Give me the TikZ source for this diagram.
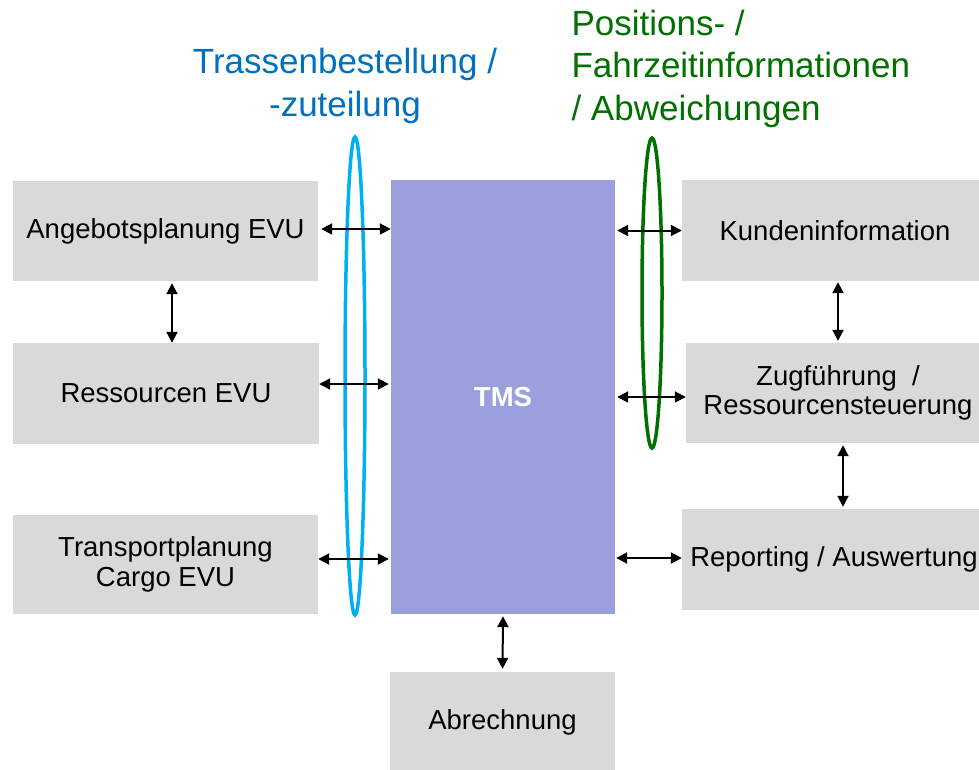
\documentclass[tikz,border=0pt]{standalone}
\usepackage{fontspec}
\setmainfont{Liberation Sans}
\usetikzlibrary{arrows.meta}
\definecolor{boxgrey}{HTML}{D9D9D9}
\definecolor{tmsfill}{HTML}{9B9FDD}
\definecolor{titleblue}{HTML}{0070C0}
\definecolor{ringcyan}{HTML}{00B0F0}
\definecolor{titlegreen}{HTML}{007000}
\tikzset{
  sysbox/.style={fill=boxgrey, draw=none, inner sep=0pt, align=center,
    font=\fontsize{27.5}{33}\selectfont},
  link/.style={<->, line width=2pt, >={Triangle[length=11pt,width=11pt]}},
  ring/.style={line width=3.5pt},
  title/.style={font=\fontsize{35}{42.5}\selectfont}
}
\begin{document}
\begin{tikzpicture}[x=1pt,y=-1pt]
\clip (0,0) rectangle (979,769);
\useasboundingbox (0,0) rectangle (979,769);

% left column
\node[sysbox, minimum width=305pt, minimum height=100pt] (ang) at (165.5,231) {Angebotsplanung EVU};
\node[sysbox, minimum width=306pt, minimum height=101pt] (res) at (166,393.5) {Ressourcen EVU};
\node[sysbox, minimum width=305pt, minimum height=99pt] (trp) at (165.5,564.5)
  {\raisebox{-2pt}{\shortstack{Transportplanung\\[2pt]Cargo EVU}}};

% central system
\node[fill=tmsfill, minimum width=224pt, minimum height=434pt, inner sep=0pt,
  text=white, font=\fontsize{27.5}{33}\selectfont\bfseries] (tms) at (503,397) {TMS};
\node[sysbox, minimum width=225pt, minimum height=100pt] (abr) at (502.5,722) {\raisebox{-3pt}{Abrechnung}};

% right column (boxes run past the right edge)
\node[sysbox, minimum width=306pt, minimum height=101pt] (kun) at (835,230.5) {Kundeninformation};
\node[sysbox, minimum width=304pt, minimum height=100pt] (zug) at (838,393)
  {\raisebox{-4pt}{\shortstack{Zugführung~~/\\[1pt]Ressourcensteuerung}}};
\node[sysbox, minimum width=304pt, minimum height=101pt] (rep) at (834,559.5) {Reporting / Auswertung};

% interface groupings
\draw[ring, ringcyan] (355,376) ellipse [x radius=10, y radius=239];
\draw[ring, titlegreen] (652,293) ellipse [x radius=10, y radius=155];

% interface labels
\node[title, text=titleblue, align=center] (lblL) at (345,86) {Trassenbestellung /\\-zuteilung};
\node[title, text=titlegreen, align=left, anchor=west] (lblR) at (568,68.5)
  {Positions- /\\Fahrzeitinformationen\\/ Abweichungen};

% connectors (yshift is in page units, positive = upwards)
\draw[link, shorten <=3pt] ([yshift=2pt]ang.east) -- ([yshift=2pt]ang.east -| tms.west);
\draw[link, shorten >=2pt] ([yshift=9.5pt]res.east) -- ([yshift=9.5pt]res.east -| tms.west);
\draw[link, shorten >=2pt] ([yshift=5.5pt]trp.east) -- ([yshift=5.5pt]trp.east -| tms.west);
\draw[link, shorten <=2pt] (kun.west -| tms.east) -- (kun.west);
\draw[link, shorten <=2pt] ([yshift=-4pt]zug.west -| tms.east) -- ([yshift=-4pt]zug.west);
\draw[link, shorten <=1pt] ([yshift=1.5pt]rep.west -| tms.east) -- ([yshift=1.5pt]rep.west);
\draw[link, shorten <=2pt] ([xshift=6.5pt]ang.south) -- ([xshift=6.5pt]ang.south |- res.north);
\draw[link, shorten <=1pt, shorten >=2pt] ([xshift=3pt]kun.south) -- ([xshift=3pt]kun.south |- zug.north);
\draw[link, shorten <=2pt, shorten >=2pt] ([xshift=5pt]zug.south) -- ([xshift=5pt]zug.south |- rep.north);
\draw[link, shorten <=2pt, shorten >=3pt] (tms.south) -- (abr.north);
\end{tikzpicture}
\end{document}
